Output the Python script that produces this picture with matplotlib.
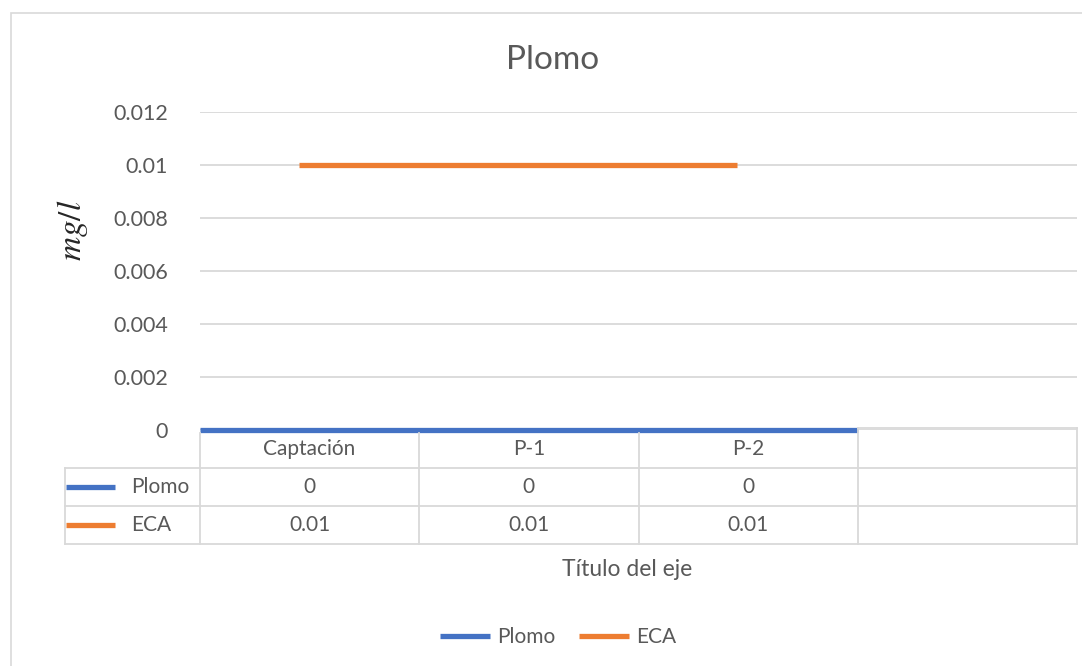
import matplotlib
matplotlib.use("Agg")
import matplotlib.pyplot as plt
import matplotlib.transforms as mtransforms
from matplotlib.lines import Line2D
from matplotlib.patches import Rectangle
import numpy as np

# data
categories = ["Captación", "P-1", "P-2"]
plomo = [0, 0, 0]
eca = [0.01, 0.01, 0.01]
series_names = ["Plomo", "ECA"]
yticks = [0, 0.002, 0.004, 0.006, 0.008, 0.01, 0.012]
ytick_labels = ["0", "0.002", "0.004", "0.006", "0.008", "0.01", "0.012"]

BLUE = "#4472C4"
ORANGE = "#ED7D31"
GRID = "#D9D9D9"
TEXT = "#595959"

plt.rcParams["font.family"] = ["Lato", "DejaVu Sans"]
plt.rcParams["mathtext.fontset"] = "stix"

W, H = 1082, 666
fig = plt.figure(figsize=(W / 100, H / 100), dpi=100)


def fx(px):
    return px / W


def fy(py):
    return 1 - py / H


# chart frame
fig.patches.append(Rectangle((fx(10.5), -0.1), 1.2, fy(13) + 0.1,
                             transform=fig.transFigure, fill=False,
                             edgecolor=GRID, lw=1.2))

ax = fig.add_axes([fx(200), fy(430), fx(1077) - fx(200), fy(112) - fy(430)])
n_cols = len(categories) + 1  # trailing empty column of the data table
ax.set_xlim(0, n_cols)
ax.set_ylim(0, 0.012)
ax.set_yticks(yticks)
ax.set_yticklabels(ytick_labels)
ax.set_xticks([])
ax.tick_params(axis="y", length=0, pad=23, labelsize=15.5, labelcolor=TEXT)
for s in ax.spines.values():
    s.set_visible(False)
ax.yaxis.grid(True, color=GRID, lw=1.3)
ax.set_axisbelow(True)

centers = np.arange(len(categories)) + 0.45
ax.plot(np.linspace(0, len(categories), len(plomo)), plomo, color=BLUE,
        lw=3.8, solid_capstyle="butt", clip_on=False, zorder=5)
ax.plot(centers, eca, color=ORANGE, lw=3.8, solid_capstyle="butt", zorder=5)

# data table below the plot
tr = mtransforms.blended_transform_factory(ax.transData, fig.transFigure)
row_edges = [430, 468, 506, 544]
kw = dict(color=GRID, lw=1.3, zorder=1)
for c in range(n_cols + 1):
    top = 428 if c >= len(categories) else 433
    fig.add_artist(Line2D([c, c], [fy(top), fy(544)], transform=tr, **kw))
fig.add_artist(Line2D([len(categories), n_cols], [fy(428), fy(428)], transform=tr, **kw))
for r in row_edges[1:]:
    fig.add_artist(Line2D([fx(65), fx(1077)], [fy(r), fy(r)],
                          transform=fig.transFigure, **kw))
fig.add_artist(Line2D([fx(65), fx(65)], [fy(468), fy(544)],
                      transform=fig.transFigure, **kw))

for i, cat in enumerate(categories):
    fig.text(i + 0.5, fy(449), cat, transform=tr, ha="center", va="center",
             fontsize=15, color=TEXT)

for k, (name, vals, col) in enumerate(zip(series_names, [plomo, eca], [BLUE, ORANGE])):
    yc = fy((row_edges[k + 1] + row_edges[k + 2]) / 2)
    fig.add_artist(Line2D([fx(66), fx(115)], [yc, yc], transform=fig.transFigure,
                          color=col, lw=3.8, solid_capstyle="butt"))
    fig.text(fx(131), yc, name, ha="left", va="center", fontsize=15, color=TEXT)
    for i, v in enumerate(vals):
        fig.text(i + 0.5, yc, f"{v:g}", transform=tr, ha="center", va="center",
                 fontsize=15, color=TEXT)

fig.text(fx(553), fy(60), "Plomo", ha="center", va="center", fontsize=24,
         color=TEXT)
fig.text(fx(72), fy(230), "$mg/l$", ha="center", va="center", rotation=90,
         fontsize=24, color="#262626")
fig.text(fx(627), fy(569), "Título del eje", ha="center", va="center",
         fontsize=16.5, color=TEXT)

handles = [Line2D([], [], color=BLUE, lw=3.8, solid_capstyle="butt"),
           Line2D([], [], color=ORANGE, lw=3.8, solid_capstyle="butt")]
leg = fig.legend(handles, series_names, loc="center", bbox_to_anchor=(fx(558), fy(637)),
                 ncol=2, frameon=False, fontsize=15, handlelength=2.4,
                 handletextpad=0.35, columnspacing=1.1)
for t in leg.get_texts():
    t.set_color(TEXT)

fig.savefig("out.png", dpi=100)
